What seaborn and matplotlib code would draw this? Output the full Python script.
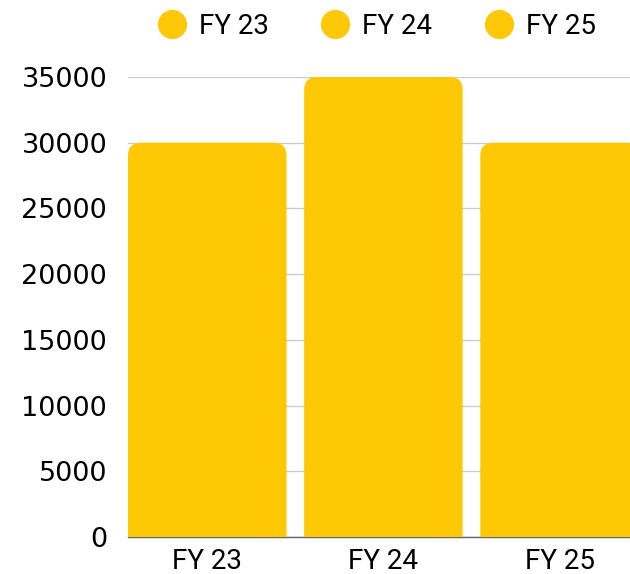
import matplotlib
matplotlib.use("Agg")
import matplotlib.pyplot as plt
from matplotlib.patches import PathPatch
from matplotlib.path import Path
from matplotlib.lines import Line2D
import seaborn as sns
import pandas as pd

categories = ["FY 23", "FY 24", "FY 25"]
values = [30000, 35000, 30000]
yticks = [0, 5000, 10000, 15000, 20000, 25000, 30000, 35000]

BAR = "#FFC805"
sns.set_style("white")
plt.rcParams["font.family"] = ["Roboto", "DejaVu Sans"]

W, H = 630, 574
fig = plt.figure(figsize=(W / 100, H / 100), dpi=100)
ax = fig.add_axes([128 / W, 1 - 537 / H, 1 - 128 / W, (537 - 77) / H])

df = pd.DataFrame({"cat": categories, "val": values})
sns.barplot(data=df, x="cat", y="val", hue="cat", palette=[BAR] * 3,
            width=0.9, legend=False, ax=ax, zorder=3, saturation=1)

ax.set_xlim(-0.45, 2.40)
ax.set_ylim(0, 35000)

# rounded top corners
px_x = (2.40 + 0.45) / (W - 128)
px_y = 35000 / (537 - 77)
r_px = 13
rx, ry = r_px * px_x, r_px * px_y
for p in list(ax.patches):
    x0, y0 = p.get_x(), p.get_y()
    w, h = p.get_width(), p.get_height()
    x1, y1 = x0 + w, y0 + h
    p.set_visible(False)
    verts = [(x0, y0), (x1, y0), (x1, y1 - ry), (x1, y1), (x1 - rx, y1),
             (x0 + rx, y1), (x0, y1), (x0, y1 - ry), (x0, y0)]
    codes = [Path.MOVETO, Path.LINETO, Path.LINETO, Path.CURVE3, Path.CURVE3,
             Path.LINETO, Path.CURVE3, Path.CURVE3, Path.CLOSEPOLY]
    ax.add_patch(PathPatch(Path(verts, codes), fc=BAR, ec="none", zorder=3))

ax.set_yticks(yticks)
ax.set_yticklabels([str(v) for v in yticks])
ax.yaxis.grid(True, color="#cccccc", linewidth=1)
ax.set_axisbelow(True)
for s in ["top", "right", "left"]:
    ax.spines[s].set_visible(False)
ax.spines["bottom"].set_color("#666666")
ax.spines["bottom"].set_linewidth(1)
ax.tick_params(axis="both", length=0, colors="#000000")
ax.tick_params(axis="x", labelsize=20, pad=8)
ax.tick_params(axis="y", pad=15)
for lbl in ax.get_yticklabels():
    lbl.set_fontfamily("DejaVu Sans")
    lbl.set_fontsize(19.5)
ax.set_xlabel("")
ax.set_ylabel("")

handles = [Line2D([], [], marker="o", linestyle="none", markersize=21,
                  markerfacecolor=BAR, markeredgecolor="none") for _ in categories]
fig.legend(handles, categories, loc="center", bbox_to_anchor=(377 / W, 1 - 26 / H),
           ncol=3, frameon=False, fontsize=20, handletextpad=0.47,
           columnspacing=1.9, handlelength=1.0, labelcolor="#000000")

fig.savefig("out.png", dpi=100)
